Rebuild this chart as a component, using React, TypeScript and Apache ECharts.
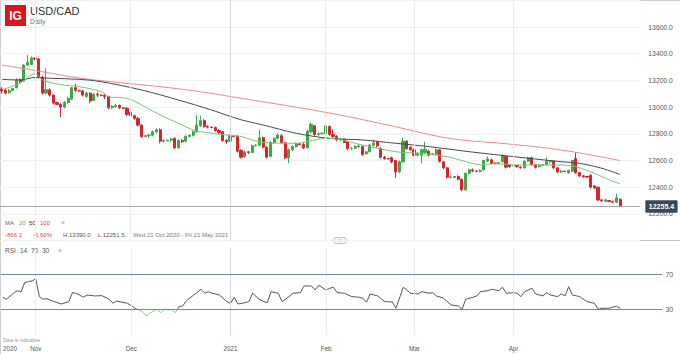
import React, { useEffect, useRef } from 'react';
import * as echarts from 'echarts';

// [open, close, low, high] per daily bar (Sun-Fri), 21 Oct 2020 onward
const ohlc: number[][] = [
  [13135,13121,13100,13150],[13125,13105,13095,13135],[13110,13122,13100,13135],[13125,13140,13120,13145],
  [13145,13205,13140,13215],[13205,13190,13180,13215],[13195,13315,13190,13320],[13315,13335,13305,13390],
  [13320,13368,13315,13380],[13368,13360,13350,13372],[13360,13225,13215,13365],[13225,13105,13095,13235],
  [13105,13130,13095,13290],[13130,13090,13080,13140],[13090,13030,13020,13095],[13035,13020,13015,13040],
  [13020,13000,12925,13030],[13000,13035,12990,13045],[13035,13065,13025,13075],[13060,13145,13055,13150],
  [13145,13125,13115,13175],[13125,13120,13115,13130],[13120,13090,13080,13130],[13080,13105,13070,13115],
  [13105,13045,13030,13110],[13050,13095,13045,13105],[13095,13090,13075,13110],[13090,13088,13082,13095],
  [13088,13080,13060,13100],[13080,12995,12985,13085],[12995,13005,12985,13015],[13005,13012,12995,13025],
  [13012,12995,12985,13020],[12995,12990,12985,13000],[12990,12945,12935,13000],[12960,12935,12925,12975],
  [12935,12915,12905,12945],[12915,12865,12855,12925],[12865,12780,12770,12870],[12780,12785,12775,12790],
  [12785,12790,12770,12800],[12790,12815,12780,12825],[12815,12830,12805,12845],[12830,12745,12730,12840],
  [12745,12748,12735,12760],[12748,12752,12745,12756],[12752,12760,12740,12770],[12765,12695,12685,12775],
  [12695,12750,12690,12760],[12750,12740,12730,12760],[12745,12780,12735,12790],[12780,12790,12775,12795],
  [12790,12815,12780,12825],[12815,12865,12805,12940],[12860,12900,12850,12935],[12900,12855,12845,12910],
  [12855,12850,12840,12865],[12850,12847,12842,12855],[12847,12825,12815,12855],[12825,12810,12800,12835],
  [12815,12750,12740,12820],[12750,12740,12725,12760],[12745,12785,12740,12795],[12785,12780,12775,12790],
  [12780,12670,12660,12790],[12675,12625,12615,12685],[12630,12665,12620,12675],[12665,12660,12650,12672],
  [12660,12710,12655,12720],[12710,12715,12705,12720],[12715,12770,12705,12830],[12770,12700,12690,12780],
  [12700,12625,12615,12705],[12630,12735,12625,12745],[12735,12765,12725,12775],[12765,12790,12760,12805],
  [12785,12735,12725,12795],[12735,12620,12610,12740],[12620,12680,12580,12690],[12680,12705,12670,12715],
  [12705,12725,12695,12735],[12725,12720,12715,12730],[12720,12695,12685,12730],[12695,12820,12690,12830],
  [12815,12870,12805,12885],[12860,12795,12785,12865],[12795,12800,12785,12810],[12800,12805,12797,12810],
  [12800,12860,12795,12890],[12855,12795,12785,12862],[12795,12780,12770,12830],[12780,12755,12745,12790],
  [12755,12760,12745,12770],[12760,12735,12730,12765],[12740,12690,12680,12745],[12690,12692,12680,12700],
  [12692,12705,12685,12715],[12705,12710,12695,12720],[12705,12645,12635,12712],[12650,12665,12645,12670],
  [12665,12715,12660,12725],[12715,12730,12705,12755],[12740,12710,12700,12745],[12690,12625,12615,12700],
  [12625,12615,12605,12635],[12615,12612,12608,12620],[12620,12590,12580,12630],[12600,12515,12470,12605],
  [12515,12590,12505,12600],[12590,12745,12585,12770],[12745,12690,12680,12750],[12700,12680,12675,12705],
  [12680,12640,12630,12690],[12640,12655,12630,12665],[12640,12680,12580,12690],[12660,12685,12650,12740],
  [12670,12640,12630,12680],[12645,12650,12640,12655],[12645,12680,12640,12690],[12680,12595,12585,12685],
  [12590,12545,12535,12595],[12545,12475,12465,12550],[12475,12478,12465,12490],[12478,12475,12472,12482],
  [12480,12460,12450,12490],[12460,12380,12370,12465],[12380,12505,12375,12510],[12505,12530,12495,12540],
  [12530,12522,12512,12540],[12522,12518,12515,12526],[12520,12525,12510,12535],[12530,12600,12525,12605],
  [12595,12612,12590,12630],[12605,12578,12570,12612],[12578,12582,12570,12590],[12582,12580,12577,12585],
  [12590,12640,12585,12645],[12630,12550,12540,12635],[12570,12555,12545,12575],[12558,12562,12550,12570],
  [12562,12555,12545,12568],[12550,12545,12540,12555],[12545,12595,12540,12600],[12595,12620,12590,12628],
  [12620,12570,12560,12630],[12570,12550,12540,12575],[12555,12565,12548,12572],[12565,12568,12562,12572],
  [12570,12595,12565,12625],[12590,12595,12580,12602],[12595,12545,12535,12600],[12545,12515,12505,12550],
  [12515,12520,12505,12530],[12520,12518,12515,12523],[12510,12525,12500,12532],[12520,12600,12515,12605],
  [12615,12510,12500,12660],[12510,12485,12475,12515],[12485,12478,12470,12492],[12480,12475,12472,12483],
  [12490,12400,12390,12495],[12410,12395,12385,12415],[12400,12305,12295,12405],[12305,12298,12290,12310],
  [12295,12305,12288,12312],[12300,12292,12289,12303],[12292,12288,12280,12300],[12288,12320,12282,12350],
  [12310,12255.4,12251.5,12315],
];

// moving averages: [bar index, value]
const ma20: number[][] = [
  [0,13130],[5,13180],[9,13250],[11,13205],[16,13168],[21,13153],[27,13115],[29,13078],[34,13066],
  [38,13016],[43,12941],[48,12879],[52,12829],[56,12808],[61,12791],[65,12780],[71,12735],[80,12729],
  [86,12759],[89,12766],[98,12716],[107,12666],[113,12654],[121,12629],[127,12584],[130,12568],
  [133,12575],[142,12566],[151,12566],[155,12559],[160,12516],[164,12467],[168,12425],
];
const ma50: number[][] = [
  [0,13208],[5,13203],[9,13222],[13,13216],[21,13208],[27,13190],[38,13128],[48,13053],[57,12978],
  [65,12905],[71,12866],[80,12804],[89,12766],[98,12754],[107,12729],[116,12704],[127,12666],
  [135,12641],[152,12591],[157,12579],[163,12542],[168,12495],
];
const ma100: number[][] = [
  [0,13315],[11,13265],[21,13218],[32,13183],[43,13153],[54,13115],[65,13066],[71,13040],
  [89,12956],[107,12853],[119,12778],[127,12748],[135,12731],[152,12679],[168,12600],
];

const rsi14: number[][] = [
  [0,43.9],[1,41.6],[3,48.5],[4,51.5],[5,50],[6,60.8],[7,62],[8,62.7],[9,65.4],[10,44.6],[11,41.6],
  [12,42.3],[14,38.8],[16,36.1],[18,38.8],[19,49.2],[20,48.5],[22,43.9],[23,46.5],[25,45.4],[27,45.7],
  [29,41.6],[30,36.9],[31,39.6],[33,37.6],[34,36.9],[36,31.2],[38,27.2],[39,22.3],[40,25.4],[42,30],
  [43,26.1],[44,30],[45,29.2],[46,29.5],[47,26.1],[48,33],[49,33.8],[50,39.9],[52,46.5],[54,53.1],
  [55,48.5],[56,50.3],[57,48.5],[59,46.5],[61,38.8],[62,36.9],[63,43.9],[64,36.1],[66,37.6],[67,38.8],
  [68,48.5],[70,40.7],[72,37.6],[73,50.3],[75,48.5],[76,38.8],[77,41.6],[79,48.5],[81,49.2],[82,56.9],
  [84,56.9],[85,52.3],[86,57.7],[88,52.3],[89,54.3],[90,55.4],[91,49.2],[93,48.5],[95,44.6],[97,43.9],
  [98,42.7],[99,38.1],[100,47.7],[102,45.4],[104,38.8],[106,38.4],[107,31.2],[109,55.4],[111,48.5],
  [113,47.7],[114,50.3],[116,48.5],[117,49.2],[118,45.4],[120,42.7],[122,35],[124,33.8],[125,30],
  [126,41.6],[128,43.9],[129,45.4],[130,50.3],[132,51.5],[133,53.1],[135,51.5],[136,55.4],[137,48.5],
  [139,49.2],[140,48.5],[141,44.6],[142,50.3],[144,54.3],[145,47.7],[147,45.4],[148,49.2],[149,46.5],
  [151,44.6],[152,47.7],[153,45.4],[154,56.1],[155,46.5],[157,44.6],[159,38.8],[161,36.9],[162,30],
  [163,31.2],[165,31.2],[167,33.5],[168,31.2],
];

const monthLineIdx = [9, 35, 62, 88, 112, 139];
const yearLineIdx = 62;
const xLabelIdx = [2, 9, 35, 62, 88, 112, 139];
const xLabelText = ['2020', 'Nov', 'Dec', '2021', 'Feb', 'Mar', 'Apr'];
const priceMin = 12000;
const priceMax = 13800;
const priceStep = 200;
const lastPrice = 12255.4;
const rsiBands = [70, 30];
const rsiOversold = 30;

const STEP = 3.68;
const MAIN_SLOTS = 174;
const RSI_SLOTS = 180;
const FONT = '"Liberation Sans", Arial, sans-serif';
const RSI_GREY = '#555555';
const RSI_GREEN = '#8acb8a';

function buildDates(n: number): string[] {
  const out: string[] = [];
  const d = new Date(Date.UTC(2020, 9, 21));
  while (out.length < n) {
    if (d.getUTCDay() !== 6) out.push(d.toISOString().slice(0, 10));
    d.setUTCDate(d.getUTCDate() + 1);
  }
  return out;
}

const txt = (x: number, y: number, text: string, fill: string, size: number, extra: any = {}) => ({
  type: 'text',
  x,
  y,
  silent: true,
  style: { text, fill, fontSize: size, fontFamily: FONT, verticalAlign: 'middle', ...extra },
});

export default function App() {
  const ref = useRef<HTMLDivElement>(null);

  useEffect(() => {
    if (!ref.current) return;
    const chart = echarts.init(ref.current, undefined, { renderer: 'svg' });
    const mainCats = buildDates(MAIN_SLOTS);
    const rsiCats = buildDates(RSI_SLOTS);

    const vLines = () =>
      monthLineIdx.map((i) => ({
        xAxis: i,
        lineStyle: { color: i === yearLineIdx ? '#d8d8d8' : '#ededed', width: 1, type: 'solid' },
        label: { show: false },
      }));

    const option: any = {
      animation: false,
      backgroundColor: '#ffffff',
      textStyle: { fontFamily: FONT },
      grid: [
        { left: 0, top: 0.3, width: MAIN_SLOTS * STEP, height: 240.3 },
        { left: 0, top: 248.7, width: RSI_SLOTS * STEP, height: 86.5 },
      ],
      xAxis: [
        { type: 'category', gridIndex: 0, data: mainCats, show: false, boundaryGap: true },
        {
          type: 'category',
          gridIndex: 1,
          data: rsiCats,
          boundaryGap: true,
          axisLine: { show: false },
          axisTick: { show: false },
          splitLine: { show: false },
          axisLabel: {
            interval: (idx: number) => xLabelIdx.indexOf(idx) >= 0,
            formatter: (_v: string, idx: number) => {
              const k = xLabelIdx.indexOf(idx);
              return k >= 0 ? xLabelText[k] : '';
            },
            color: '#555',
            fontSize: 6.3,
            fontFamily: FONT,
            margin: 10,
          },
        },
      ],
      yAxis: [
        {
          type: 'value',
          gridIndex: 0,
          position: 'right',
          min: priceMin,
          max: priceMax,
          interval: priceStep,
          axisLine: { show: false },
          axisTick: { show: false },
          splitLine: { lineStyle: { color: '#f1f1f1', width: 1 } },
          axisLabel: {
            formatter: (v: number) => (v === priceMin || v === priceMax ? '' : v.toFixed(1)),
            color: '#555',
            fontSize: 6.8,
            fontFamily: FONT,
            margin: 8,
          },
        },
        { type: 'value', gridIndex: 1, min: 0, max: 100, show: false },
      ],
      series: [
        {
          type: 'candlestick',
          xAxisIndex: 0,
          yAxisIndex: 0,
          data: ohlc,
          barWidth: 2.6,
          z: 3,
          itemStyle: {
            color: '#3ea748',
            color0: '#d5262d',
            borderColor: '#3ea748',
            borderColor0: '#d5262d',
            borderWidth: 1,
          },
          markLine: {
            symbol: ['none', 'none'],
            silent: true,
            data: [
              ...vLines(),
              {
                yAxis: lastPrice,
                lineStyle: { color: '#a5a5a5', width: 1, type: 'solid' },
                label: {
                  show: true,
                  position: 'end',
                  formatter: '12255.4',
                  backgroundColor: '#3a4959',
                  color: '#ffffff',
                  fontSize: 7,
                  fontWeight: 'bold',
                  fontFamily: FONT,
                  padding: [3, 3.5, 2.5, 3.5],
                  borderRadius: 1,
                  distance: 5,
                },
              },
            ],
          },
        },
        {
          type: 'line',
          name: 'MA100',
          xAxisIndex: 0,
          yAxisIndex: 0,
          data: ma100,
          showSymbol: false,
          smooth: 0.35,
          z: 4,
          lineStyle: { color: '#ea8a8a', width: 1 },
        },
        {
          type: 'line',
          name: 'MA50',
          xAxisIndex: 0,
          yAxisIndex: 0,
          data: ma50,
          showSymbol: false,
          smooth: 0.35,
          z: 4,
          lineStyle: { color: '#4a4a4a', width: 1 },
        },
        {
          type: 'line',
          name: 'MA20',
          xAxisIndex: 0,
          yAxisIndex: 0,
          data: ma20,
          showSymbol: false,
          smooth: 0.35,
          z: 4,
          lineStyle: { color: '#79c279', width: 1 },
        },
        {
          id: 'rsi',
          type: 'line',
          name: 'RSI',
          xAxisIndex: 1,
          yAxisIndex: 1,
          data: rsi14,
          showSymbol: false,
          z: 4,
          lineStyle: { width: 1, color: RSI_GREY },
          markLine: {
            symbol: ['none', 'none'],
            silent: true,
            data: [
              ...vLines(),
              ...rsiBands.map((b) => ({
                yAxis: b,
                lineStyle: { color: '#6e8ba0', width: 1, type: 'solid' },
                label: {
                  show: true,
                  position: 'end',
                  formatter: String(b),
                  color: '#555',
                  fontSize: 7,
                  fontFamily: FONT,
                  distance: 3,
                },
              })),
            ],
          },
        },
      ],
      graphic: [
        { type: 'line', silent: true, shape: { x1: 0, y1: 0.5, x2: 680, y2: 0.5 }, style: { stroke: '#cfcfcf', lineWidth: 1 } },
        { type: 'line', silent: true, shape: { x1: 0.5, y1: 0, x2: 0.5, y2: 354 }, style: { stroke: '#cfcfcf', lineWidth: 1 } },
        { type: 'line', silent: true, shape: { x1: 0, y1: 240.5, x2: 680, y2: 240.5 }, style: { stroke: '#c4c4c4', lineWidth: 1 } },
        { type: 'rect', silent: true, shape: { x: 334, y: 237.5, width: 12, height: 6, r: 2 }, style: { fill: '#ffffff', stroke: '#b0b0b0', lineWidth: 0.8 } },
        { type: 'line', silent: true, shape: { x1: 337, y1: 239.7, x2: 343, y2: 239.7 }, style: { stroke: '#b0b0b0', lineWidth: 0.6 } },
        { type: 'line', silent: true, shape: { x1: 337, y1: 241.3, x2: 343, y2: 241.3 }, style: { stroke: '#b0b0b0', lineWidth: 0.6 } },
        // header
        { type: 'rect', silent: true, shape: { x: 5, y: 5, width: 21, height: 21 }, style: { fill: '#d9161d' } },
        txt(15.5, 16, 'IG', '#ffffff', 12, { fontWeight: 'bold', align: 'center' }),
        txt(30, 11, 'USD/CAD', '#333333', 11),
        txt(30, 21, 'Daily', '#777777', 7),
        // MA legend
        txt(5, 222.5, 'MA', '#666666', 6),
        txt(19, 222.5, '20', '#5cb85c', 6),
        txt(29, 222.5, '50', '#333333', 6),
        txt(40, 222.5, '100', '#e0474c', 6),
        txt(61, 222.5, '×', '#999999', 7),
        txt(5, 234.5, '-866.1', '#e0474c', 6),
        txt(33, 234.5, '-6.60%', '#e0474c', 6),
        txt(63, 234.5, 'H 13390.0', '#555555', 6),
        txt(98, 234.5, 'L 12251.5', '#555555', 6),
        txt(133, 234.5, 'Wed 21 Oct 2020 - Fri 21 May 2021', '#777777', 6),
        // RSI legend
        txt(5, 250, 'RSI', '#555555', 6.5),
        txt(20, 250, '14', '#555555', 6.5),
        txt(31, 250, '70', '#555555', 6.5),
        txt(42, 250, '30', '#555555', 6.5),
        txt(58, 250, '×', '#999999', 7),
        txt(3, 340, 'Data is indicative', '#999999', 4.9),
      ],
    };

    chart.setOption(option);

    // colour the RSI line green below the oversold level, using the axis' own scale
    const y30 = chart.convertToPixel({ yAxisIndex: 1 }, rsiOversold) as number;
    const h = chart.getHeight();
    if (isFinite(y30) && h > 0) {
      const off = Math.min(1, Math.max(0, y30 / h));
      chart.setOption({
        series: [
          {
            id: 'rsi',
            lineStyle: {
              color: {
                type: 'linear',
                x: 0,
                y: 0,
                x2: 0,
                y2: h,
                global: true,
                colorStops: [
                  { offset: 0, color: RSI_GREY },
                  { offset: off, color: RSI_GREY },
                  { offset: off, color: RSI_GREEN },
                  { offset: 1, color: RSI_GREEN },
                ],
              },
            },
          },
        ],
      });
    }

    return () => chart.dispose();
  }, []);

  return (
    <div
      ref={ref}
      style={{ position: 'fixed', left: 0, top: 0, width: 680, height: 354, background: '#fff' }}
    />
  );
}
